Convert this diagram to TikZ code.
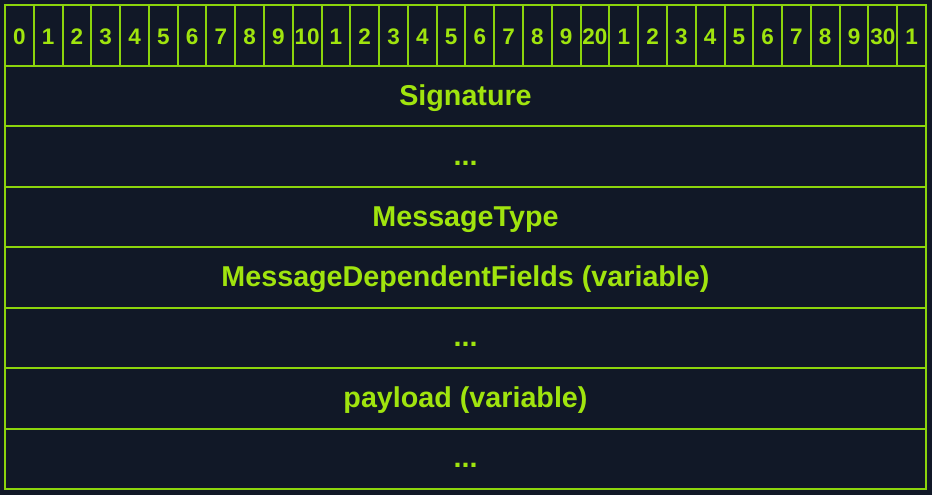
\documentclass[tikz,border=0pt]{standalone}
\usepackage{fontspec}
\setmainfont{Liberation Sans}
\definecolor{panel}{HTML}{111827}
\definecolor{rule}{HTML}{8CD40C}
\definecolor{ink}{HTML}{A0E40E}
\tikzset{
  cell/.style={draw=rule, line width=2pt, inner sep=0pt, outer sep=0pt,
    text=ink, font=\bfseries, text height=20pt, text depth=2pt},
  bitcell/.style={cell, minimum width=28.78pt, minimum height=61pt,
    font=\bfseries\fontsize{22.5}{24}\selectfont},
  fieldrow/.style={cell, minimum width=921pt, minimum height=60.43pt,
    font=\bfseries\fontsize{28.7}{30}\selectfont},
}
\begin{document}
\begin{tikzpicture}[x=1pt, y=-1pt]
  % page background
  \fill[panel] (0,0) rectangle (932,495);
  \useasboundingbox (0,0) rectangle (932,495);
  % bit ruler across the top
  \foreach \lbl [count=\i from 0] in {0,1,2,3,4,5,6,7,8,9,10,1,2,3,4,5,6,7,8,9,20,1,2,3,4,5,6,7,8,9,30,1}
    \node[bitcell] (bit\i) at ({5 + (\i + 0.5)*28.78}, 35.5) {\lbl};
  % packet fields, one per row (row centres at 66 + (r - 0.5) * 60.43)
  \node[fieldrow] (row1) at (465.5, 96.2)  {Signature};
  \node[fieldrow] (row2) at (465.5, 156.6) {...};
  \node[fieldrow] (row3) at (465.5, 217.1) {MessageType};
  \node[fieldrow] (row4) at (465.5, 277.5) {MessageDependentFields (variable)};
  \node[fieldrow] (row5) at (465.5, 337.9) {...};
  \node[fieldrow] (row6) at (465.5, 398.4) {payload (variable)};
  \node[fieldrow] (row7) at (465.5, 458.8) {...};
\end{tikzpicture}
\end{document}
